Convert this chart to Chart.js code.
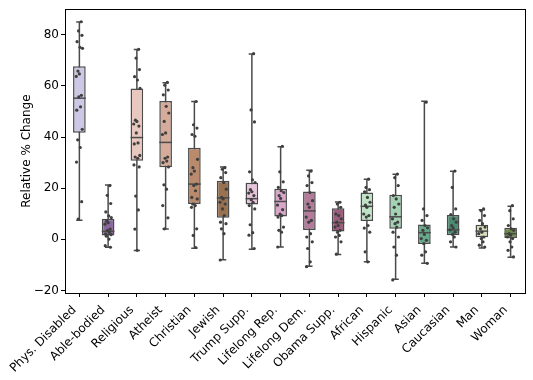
<!DOCTYPE html>
<html>
<head>
<meta charset="utf-8">
<script src="https://cdn.jsdelivr.net/npm/chart.js@4"></script>
<style>
  html, body { margin: 0; padding: 0; background: #fff; }
  #wrap { width: 533px; height: 380px; }
</style>
</head>
<body>
<div id="wrap"><canvas id="chart" width="533" height="380"></canvas></div>
<script>
// categories and box statistics
const CATEGORIES = ['Phys. Disabled', 'Able-bodied', 'Religious', 'Atheist', 'Christian', 'Jewish',
    'Trump Supp.', 'Lifelong Rep.', 'Lifelong Dem.', 'Obama Supp.', 'African', 'Hispanic',
    'Asian', 'Caucasian', 'Man', 'Woman'];
const WHISK_LO = [7.5, -3.1, -4.4, 4.0, -3.5, -8.0, -3.9, -3.0, -10.5, -5.9, -8.8, -15.6, -9.4, -3.0, -3.4, -7.0];
const Q1       = [41.7, 1.5, 30.7, 28.2, 13.8, 8.4, 13.6, 8.9, 3.6, 3.1, 7.2, 4.1, -1.8, 1.6, 0.8, 0.5];
const MEDIAN   = [55.2, 3.1, 39.8, 37.9, 21.6, 16.2, 15.9, 14.8, 11.1, 6.5, 12.9, 8.8, 2.6, 3.7, 3.2, 2.2];
const Q3       = [67.7, 8.0, 59.0, 54.1, 35.8, 22.9, 22.1, 19.8, 18.7, 12.1, 18.3, 17.4, 5.8, 9.5, 5.7, 4.5];
const WHISK_HI = [85.0, 21.2, 74.2, 61.2, 53.9, 28.3, 72.5, 36.2, 27.0, 14.6, 23.5, 25.4, 54.0, 26.6, 11.6, 12.9];

// individual observations per category
const POINTS = [
    [85.1, 81.5, 79.8, 77.3, 75.1, 74.7, 65.8, 64.7, 63.7, 56.3, 55.7, 51.8, 50.5, 43.0, 38.9, 35.9, 30.2, 14.7, 7.9],
    [21.0, 17.2, 14.0, 10.7, 9.2, 8.5, 7.2, 6.5, 5.9, 4.0, 3.5, 2.7, 2.0, 1.8, 1.2, 0.1, -2.5, -3.1],
    [74.3, 70.9, 66.4, 63.6, 62.3, 59.0, 46.6, 46.1, 45.1, 44.3, 41.6, 37.7, 37.3, 32.8, 32.2, 31.7, 29.1, 28.3, 16.9, 11.5, 4.0, -4.3],
    [61.4, 60.3, 58.4, 56.5, 52.0, 49.4, 46.1, 41.6, 41.0, 32.2, 31.7, 30.6, 30.0, 28.3, 21.3, 19.6, 13.2, 8.4, 4.1],
    [53.9, 44.8, 43.5, 41.0, 40.3, 31.3, 28.0, 26.7, 25.5, 21.6, 21.0, 19.0, 16.4, 15.8, 13.8, 13.2, 12.5, 4.1, 1.5, -3.2],
    [28.0, 27.4, 26.1, 24.1, 22.2, 19.6, 16.4, 15.8, 14.5, 13.8, 11.9, 9.3, 6.7, 6.1, 4.1, 2.2, -8.1],
    [72.6, 50.6, 45.9, 26.4, 23.3, 22.2, 19.4, 18.6, 18.1, 17.1, 15.5, 14.5, 13.2, 11.9, 5.7, 2.6, 1.6, -3.6],
    [36.4, 26.4, 22.5, 20.3, 19.0, 18.3, 17.1, 16.0, 13.4, 11.6, 9.9, 9.3, 8.7, 4.8, 3.5, 2.8, -3.0],
    [26.7, 24.8, 22.2, 21.0, 18.3, 15.1, 13.8, 12.5, 8.7, 7.4, 6.7, 2.2, 0.9, -1.0, -3.6, -8.8, -10.7],
    [14.5, 13.8, 12.5, 9.9, 9.3, 8.0, 6.7, 5.4, 4.8, 3.5, 2.8, 1.5, 0.9, -1.0, -5.8],
    [23.5, 20.3, 19.4, 18.6, 16.4, 14.5, 13.4, 12.5, 9.9, 9.3, 8.7, 5.4, 4.4, 2.8, -4.9, -8.8],
    [25.5, 24.1, 21.0, 17.1, 15.8, 13.8, 12.5, 9.9, 8.0, 6.7, 6.1, 4.8, 2.8, 0.9, -3.0, -6.2, -15.9],
    [53.6, 11.9, 9.3, 7.4, 5.4, 4.5, 3.5, 1.9, 0.3, -0.4, -1.7, -4.9, -6.2, -9.4],
    [26.7, 20.3, 11.9, 9.7, 8.0, 6.7, 5.4, 4.5, 3.7, 2.8, 1.9, 0.9, -1.0, -3.0],
    [11.9, 11.2, 9.3, 7.4, 6.1, 4.8, 4.1, 2.8, 2.2, 0.9, 0.3, -1.0, -2.3, -3.0],
    [13.2, 11.2, 8.0, 5.4, 4.1, 3.5, 2.2, 1.6, 0.9, 0.3, -1.0, -3.0, -4.3, -6.9]
];
const Y_TICKS = [-20, 0, 20, 40, 60, 80];

// styling
const BOX_COLORS = ['#cdc8e5', '#8c679f', '#e8c7be', '#d6ab99', '#b98a6c', '#977150', '#e8c3dc', '#d9a5c8',
    '#b47b9c', '#9b5c7d', '#bfe2c6', '#a2d4b4', '#66a98b', '#4b8b72', '#d9ddb9', '#6e8b4a'];
const EDGE = '#4a4a4a';
// horizontal strip offsets (fraction of a category)
const JITTER = [0.06, -0.03, 0.09, -0.08, 0.02, 0.11, -0.05, 0.0, -0.11, 0.07, -0.02,
    0.04, -0.09, 0.1, -0.06, 0.03, -0.1, 0.08, -0.04, 0.05, -0.07, 0.01];

const FONT = { family: 'DejaVu Sans', size: 12 };

const boxData = CATEGORIES.map((c, i) => ({ x: i, y: [Q1[i], Q3[i]] }));
const stripData = [];
POINTS.forEach((vals, i) => {
    vals.forEach((v, k) => stripData.push({ x: i + JITTER[k % JITTER.length], y: v }));
});

const boxParts = {
    id: 'boxParts',
    beforeDatasetDraw(chart, args) {
        if (args.index !== 0) return;
        const y = chart.scales.y;
        const ctx = chart.ctx;
        ctx.save();
        ctx.strokeStyle = EDGE;
        ctx.lineWidth = 1.5;
        args.meta.data.forEach((bar, i) => {
            const cap = bar.width / 4;
            const lo = y.getPixelForValue(WHISK_LO[i]);
            const hi = y.getPixelForValue(WHISK_HI[i]);
            ctx.beginPath();
            ctx.moveTo(bar.x, lo); ctx.lineTo(bar.x, hi);
            ctx.moveTo(bar.x - cap, lo); ctx.lineTo(bar.x + cap, lo);
            ctx.moveTo(bar.x - cap, hi); ctx.lineTo(bar.x + cap, hi);
            ctx.stroke();
        });
        ctx.restore();
    },
    afterDatasetDraw(chart, args) {
        if (args.index !== 0) return;
        const y = chart.scales.y;
        const ctx = chart.ctx;
        ctx.save();
        ctx.strokeStyle = EDGE;
        ctx.lineWidth = 1.5;
        args.meta.data.forEach((bar, i) => {
            const m = y.getPixelForValue(MEDIAN[i]);
            ctx.beginPath();
            ctx.moveTo(bar.x - bar.width / 2, m);
            ctx.lineTo(bar.x + bar.width / 2, m);
            ctx.stroke();
        });
        ctx.restore();
    },
    afterDraw(chart) {
        const a = chart.chartArea;
        const ctx = chart.ctx;
        ctx.save();
        ctx.strokeStyle = '#000';
        ctx.lineWidth = 1;
        ctx.strokeRect(Math.round(a.left) + 0.5, Math.round(a.top) + 0.5,
            Math.round(a.right - a.left), Math.round(a.bottom - a.top));
        ctx.restore();
    }
};

new Chart(document.getElementById('chart'), {
    type: 'bar',
    data: {
        datasets: [{
            type: 'bar',
            data: boxData,
            backgroundColor: BOX_COLORS,
            borderColor: EDGE,
            borderWidth: 1.5,
            borderSkipped: false,
            barPercentage: 0.55,
            categoryPercentage: 0.8,
            order: 1
        }, {
            type: 'scatter',
            data: stripData,
            pointRadius: 1.6,
            pointBackgroundColor: '#3f3f3f',
            pointBorderWidth: 0,
            order: 0
        }]
    },
    options: {
        responsive: false,
        animation: false,
        layout: { padding: { top: 7, right: 8, left: 0, bottom: 0 } },
        plugins: { legend: { display: false }, tooltip: { enabled: false } },
        scales: {
            x: {
                type: 'linear',
                offset: false,
                min: -0.5, max: 15.5,
                afterBuildTicks: (s) => { s.ticks = CATEGORIES.map((c, i) => ({ value: i })); },
                grid: { offset: false, drawOnChartArea: false, drawTicks: true, tickLength: 4, color: '#000' },
                border: { display: true, color: '#000', width: 1 },
                ticks: {
                    color: '#000', font: FONT, minRotation: 45, maxRotation: 45,
                    autoSkip: false, padding: 6, labelOffset: -5,
                    callback: (v) => CATEGORIES[v]
                },
                afterFit: (s) => { s.height = 87; }
            },
            y: {
                min: -21, max: 90,
                afterBuildTicks: (s) => { s.ticks = Y_TICKS.map(v => ({ value: v })); },
                grid: { drawOnChartArea: false, drawTicks: true, tickLength: 4, color: '#000' },
                border: { display: true, color: '#000', width: 1 },
                ticks: {
                    color: '#000', font: FONT, padding: 2,
                    callback: (v) => String(v).replace('-', '\u2212')
                },
                title: {
                    display: true, text: 'Relative % Change', color: '#000', font: FONT,
                    padding: { top: 20, bottom: 0 }
                },
                afterFit: (s) => { s.width = 65; }
            }
        }
    },
    plugins: [boxParts]
});
</script>
</body>
</html>
